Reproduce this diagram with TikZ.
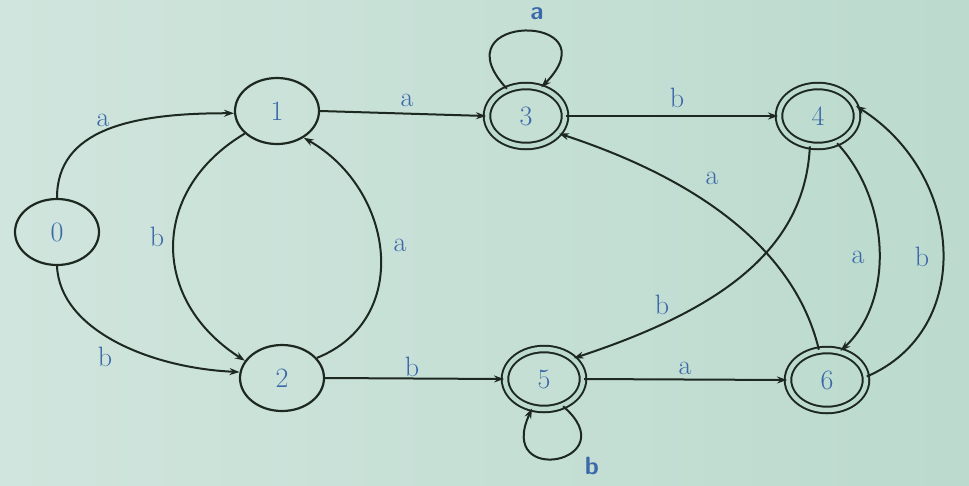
\documentclass[tikz,border=0pt]{standalone}
\usetikzlibrary{shapes.geometric,arrows.meta}
\definecolor{bgc}{HTML}{BCDACE}
\definecolor{bgl}{HTML}{D0E5DD}
\definecolor{txtc}{HTML}{3A68A8}
\definecolor{linec}{HTML}{1C2820}
\tikzset{
  every picture/.style={x=1pt,y=-1pt},
  st/.style={ellipse,draw=linec,line width=2.2pt,minimum width=84pt,minimum height=66pt,inner sep=0pt,
    text=txtc,font=\fontsize{28}{30}\selectfont},
  acc/.style={st,double=bgc,double distance=4.5pt,line width=2pt,minimum width=78pt,minimum height=60pt},
  edge/.style={draw=linec,line width=2pt,-{Stealth[length=10pt,width=7pt]}},
  lab/.style={text=txtc,font=\fontsize{28}{30}\selectfont,inner sep=0pt},
  blab/.style={text=txtc,font=\fontsize{25}{27}\selectfont\sffamily\bfseries,inner sep=0pt}
}
\begin{document}
\begin{tikzpicture}
\useasboundingbox (0,0) rectangle (969,485);
\shade[left color=bgl,right color=bgc] (0,0) rectangle (969,485);
\node[st] (n0) at (57,232) {0};
\node[st] (n1) at (277,111) {1};
\node[st] (n2) at (282,378) {2};
\node[acc] (n3) at (526,116) {3};
\node[acc] (n4) at (818,116) {4};
\node[acc] (n5) at (544,379) {5};
\node[acc] (n6) at (827,380) {6};
% edges
\draw[edge] (n0.north) .. controls (57,130) and (130,113) .. (n1.183);
\draw[edge] (n0.south) .. controls (60,330) and (150,368) .. (n2.172);
\draw[edge] (n1.215) .. controls (150,190) and (150,300) .. (n2.155);
\draw[edge] (n2.30) .. controls (412,320) and (395,190) .. (n1.-45);
\draw[edge] (n1.east) -- (n3.west);
\draw[edge] (n3.east) -- (n4.west);
\draw[edge] (n2.east) -- (n5.west);
\draw[edge] (n5.east) -- (n6.west);
\draw[edge] (n3.125) .. controls (435,12) and (615,12) .. (n3.62);
\draw[edge] (n5.-55) .. controls (628,462) and (495,488) .. (n5.-112);
\draw[edge] (n6.105) .. controls (795,250) and (700,180) .. (n3.-28);
\draw[edge] (n4.-105) .. controls (805,250) and (720,310) .. (n5.35);
\draw[edge] (n4.-55) .. controls (890,200) and (895,300) .. (n6.65);
\draw[edge] (n6.5) .. controls (975,330) and (965,175) .. (n4.15);
% labels
\node[lab] (l01) at (103,120) {a};
\node[lab] (l02) at (105,357) {b};
\node[lab] (l12) at (157,237) {b};
\node[lab] (l21) at (400,245) {a};
\node[lab] (l13) at (407,100) {a};
\node[lab] (l34) at (677,98) {b};
\node[lab] (l25) at (412,367) {b};
\node[lab] (l56) at (685,368) {a};
\node[lab] (l63) at (712,178) {a};
\node[lab] (l45) at (662,305) {b};
\node[lab] (l46) at (858,257) {a};
\node[lab] (l64) at (922,257) {b};
\node[blab] (l33) at (537,14) {a};
\node[blab] (l55) at (592,466) {b};
\end{tikzpicture}
\end{document}
